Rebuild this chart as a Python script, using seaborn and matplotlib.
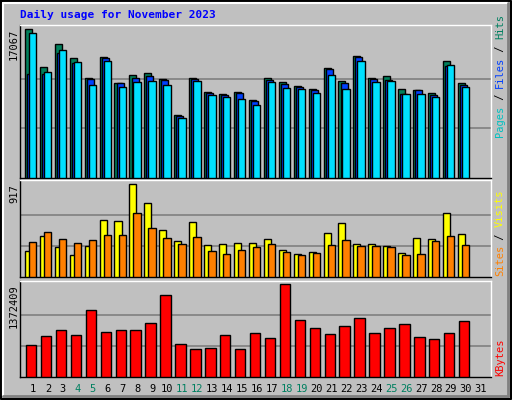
import numpy as np
import matplotlib
matplotlib.use('Agg')
import matplotlib.pyplot as plt
import seaborn as sns

days = list(range(1, 32))
weekend = [4, 5, 11, 12, 18, 19, 25, 26]

hits = [17067, 12741, 15328, 13707, 11506, 13822, 10927, 11853, 12085, 11390,
        7220, 11506, 9884, 9653, 9884, 8958, 11506, 11043, 10579, 10232,
        12548, 11158, 13938, 11506, 11737, 10232, 10116, 9768, 13359, 10927]
files = [11969, 11969, 14363, 13127, 11390, 13707, 10927, 11506, 11737, 11274,
         7066, 11390, 9768, 9537, 9768, 8842, 11274, 10811, 10463, 10116,
         12432, 10927, 13822, 11390, 11274, 9653, 10116, 9537, 12857, 10695]
pages = [16602, 12201, 14633, 13243, 10695, 13359, 10463, 11043, 11158, 10695,
         6873, 11158, 9537, 9305, 9073, 8378, 11043, 10347, 10232, 9768,
         11853, 10232, 13359, 11043, 11158, 9653, 9653, 9305, 12896, 10463]
visits = [252, 401, 291, 212, 301, 559, 549, 917, 728, 460,
          351, 540, 311, 321, 331, 331, 371, 271, 222, 242,
          430, 530, 321, 321, 301, 232, 381, 371, 629, 420]
sites = [341, 440, 371, 331, 361, 410, 410, 629, 480, 381,
         321, 391, 261, 222, 271, 291, 321, 242, 212, 232,
         311, 361, 301, 301, 291, 212, 222, 351, 401, 311]
kbytes = [470846, 606089, 696251, 621116, 981764, 666197, 696251, 696251, 801440, 1207169,
          485873, 410738, 425765, 621116, 410738, 651170, 576035, 1372409, 846521, 726305,
          636143, 756359, 876575, 651170, 726305, 786413, 591062, 561008, 651170, 831494]

sns.set_theme(style='white')
plt.rcParams['font.family'] = ['DejaVu Sans Mono', 'DejaVu Sans']

W, H = 512, 400
fig = plt.figure(figsize=(W / 100, H / 100), dpi=100)
fig.patch.set_facecolor('#C0C0C0')

def px_axes(x0, y0, x1, y1):
    return fig.add_axes([x0 / W, 1 - y1 / H, (x1 - x0) / W, (y1 - y0) / H])

x = np.array(days[:30], dtype=float)

def setup(ax, top, frac):
    ax.set_facecolor('#C0C0C0')
    ax.set_xlim(0.13, 31.68)
    ax.set_ylim(0, top)
    for f in (1 / 3, 2 / 3):
        ax.axhline(top * f * frac, color='#808080', lw=1.2, zorder=0)
    ax.set_xticks([]); ax.set_yticks([])
    for s in ax.spines.values():
        s.set_color('white'); s.set_linewidth(1)
    ax.spines['left'].set_color('black'); ax.spines['bottom'].set_color('black')

def bars(ax, vals, off, w, color):
    ax.bar(x + off, vals, width=w, align='edge', color=color,
           edgecolor='black', linewidth=1, zorder=3)

# top panel
ax1 = px_axes(20, 25, 491, 178)
m1 = 17067 * 152 / 148
setup(ax1, m1, 148 / 152)
bars(ax1, hits, -0.54, 0.47, '#00805C')
bars(ax1, files, -0.40, 0.47, '#0040FF')
bars(ax1, pages, -0.27, 0.50, '#00E0FF')

# middle panel
ax2 = px_axes(20, 180, 491, 277)
m2 = 917 * 97 / 93
setup(ax2, m2, 93 / 97)
bars(ax2, visits, -0.54, 0.47, '#FFFF00')
bars(ax2, sites, -0.27, 0.50, '#FF8000')

# bottom panel
ax3 = px_axes(20, 281, 491, 377)
m3 = 1372409 * 96 / 93
setup(ax3, m3, 93 / 96)
bars(ax3, kbytes, -0.47, 0.70, '#FF0000')

# title and axis max labels
fig.text(20 / W, 1 - 15 / H, 'Daily usage for November 2023', color='#0000FF',
         fontsize=8, fontweight='bold', va='center', ha='left')
for y, t in [(29, '17067'), (184, '917'), (284, '1372409')]:
    fig.text(14 / W, 1 - y / H, t, rotation=90, fontsize=7.5, color='black',
             ha='center', va='top')

def side_label(parts, ybottom):
    y = ybottom
    for t, c in parts:
        fig.text(500 / W, 1 - y / H, t, rotation=90, fontsize=7.5, color=c,
                 ha='center', va='bottom')
        y -= len(t) * 6.1
side_label([('Pages', '#00C0C0'), (' / ', 'black'), ('Files', '#0040FF'),
            (' / ', 'black'), ('Hits', '#008060')], 137)
side_label([('Sites', '#FF8000'), (' / ', 'black'), ('Visits', '#FFFF00')], 276)
side_label([('KBytes', '#FF0000')], 376)

# day labels
for d in days:
    xp = 20 + (d - 0.13) / (31.68 - 0.13) * 471
    fig.text(xp / W, 1 - 389 / H, str(d), fontsize=7.5, ha='center', va='center',
             color='#008060' if d in weekend else 'black')

# outer bevel border
border = fig.add_axes([0, 0, 1, 1], facecolor='none')
border.set_xlim(0, W); border.set_ylim(H, 0); border.axis('off')
border.plot([1, W - 1, W - 1, 1, 1], [1, 1, H - 1, H - 1, 1], color='black', lw=1.5)
border.plot([3, W - 4], [3, 3], color='white', lw=1.5)
border.plot([3, 3], [3, H - 4], color='white', lw=1.5)
border.plot([W - 4, W - 4], [3, H - 4], color='#808080', lw=2)
border.plot([3, W - 4], [H - 4, H - 4], color='#808080', lw=2)

fig.savefig('out.png', dpi=100, facecolor=fig.get_facecolor())
